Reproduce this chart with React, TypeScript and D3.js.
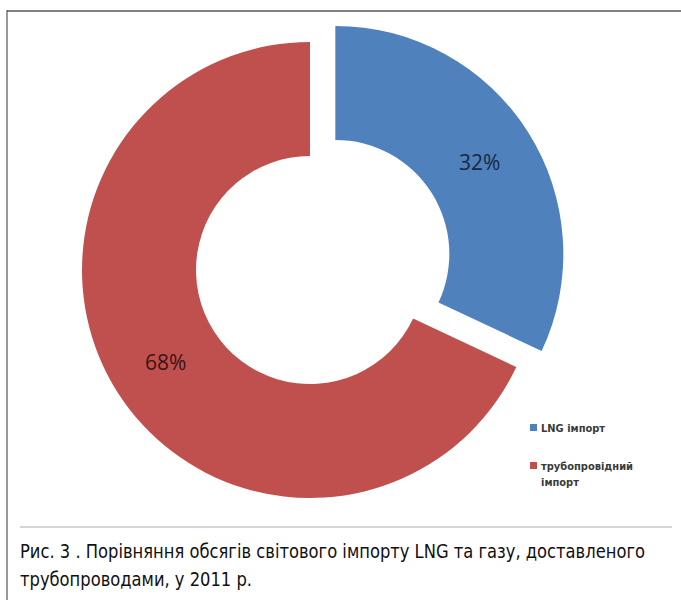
import React, { useRef, useEffect } from 'react';
import * as d3 from 'd3';

const categories = ['LNG імпорт', 'трубопровідний імпорт'];
const legendLines = [['LNG імпорт'], ['трубопровідний', 'імпорт']];
const shares = [32, 68];
const explode = [30, 0];
const colors = ['#4F81BD', '#C0504D'];
const labelColors = ['#1c2740', '#3a1414'];
const captionLines = [
  'Рис. 3 . Порівняння обсягів світового імпорту LNG та газу, доставленого',
  'трубопроводами, у 2011 р.',
];

const App = () => {
  const ref = useRef(null);

  useEffect(() => {
    const svg = d3.select(ref.current);
    svg.selectAll('*').remove();
    svg.attr('width', 681).attr('height', 600);

    // frame
    svg.append('line').attr('x1', 7).attr('x2', 681).attr('y1', 11).attr('y2', 11)
      .attr('stroke', '#808080').attr('stroke-width', 2);
    svg.append('line').attr('x1', 7).attr('x2', 7).attr('y1', 10).attr('y2', 600)
      .attr('stroke', '#555').attr('stroke-width', 1.2);
    svg.append('line').attr('x1', 20).attr('x2', 672).attr('y1', 527).attr('y2', 527)
      .attr('stroke', '#c8c8c8').attr('stroke-width', 1.5);

    const cx = 310;
    const cy = 270;
    const outer = 228;
    const inner = 114;

    const pie = d3.pie().sort(null).value((d) => d)(shares);
    const arc = d3.arc().innerRadius(inner).outerRadius(outer);
    const labelArc = d3.arc().innerRadius((inner + outer) / 2).outerRadius((inner + outer) / 2);

    const g = svg.append('g').attr('transform', `translate(${cx},${cy})`);

    const slices = g.selectAll('g.slice')
      .data(pie)
      .enter()
      .append('g')
      .attr('transform', (d, i) => {
        const mid = (d.startAngle + d.endAngle) / 2;
        const dx = Math.sin(mid) * explode[i];
        const dy = -Math.cos(mid) * explode[i];
        return `translate(${dx},${dy})`;
      });

    slices.append('path')
      .attr('d', arc)
      .attr('fill', (d, i) => colors[i]);

    slices.append('text')
      .attr('transform', (d) => `translate(${labelArc.centroid(d)})`)
      .attr('text-anchor', 'middle')
      .attr('dominant-baseline', 'central')
      .attr('font-family', 'Open Sans, sans-serif')
      .attr('font-size', 21)
      .attr('fill', (d, i) => labelColors[i])
      .text((d) => `${d.data}%`);

    // legend
    const legend = svg.append('g').attr('transform', 'translate(530,428)');
    const items = legend.selectAll('g')
      .data(categories)
      .enter()
      .append('g')
      .attr('transform', (d, i) => `translate(0,${i * 38})`);
    items.append('rect')
      .attr('x', 0).attr('y', -4).attr('width', 7).attr('height', 7)
      .attr('fill', (d, i) => colors[i]);
    items.each(function (d, i) {
      const t = d3.select(this).append('text')
        .attr('x', 11)
        .attr('y', 0)
        .attr('font-family', 'DejaVu Sans Condensed, DejaVu Sans, sans-serif')
        .attr('font-weight', 'bold')
        .attr('font-size', 11)
        .attr('fill', '#3a3a3a');
      legendLines[i].forEach((line, j) => {
        t.append('tspan').attr('x', 11).attr('dy', j === 0 ? 4 : 16).text(line);
      });
    });

    // caption
    svg.selectAll('text.caption')
      .data(captionLines)
      .enter()
      .append('text')
      .attr('class', 'caption')
      .attr('x', 20)
      .attr('y', (d, i) => 558 + i * 28)
      .attr('font-family', 'DejaVu Sans Condensed, Liberation Sans Narrow, sans-serif')
      .attr('font-size', 19)
      .attr('fill', '#111')
      .attr('textLength', (d, i) => (i === 0 ? 625 : 232))
      .attr('lengthAdjust', 'spacingAndGlyphs')
      .text((d) => d);
  }, []);

  return <svg ref={ref} style={{ position: 'absolute', left: 0, top: 0 }}></svg>;
};

export default App;
